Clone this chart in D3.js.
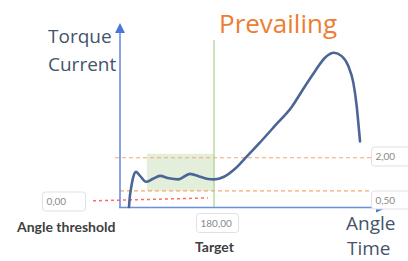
<!DOCTYPE html>
<html lang="en">
<head>
  <meta charset="UTF-8" />
  <title>Prevailing torque</title>
  <script src="https://cdnjs.cloudflare.com/ajax/libs/d3/7.8.2/d3.min.js"></script>
  <style>
    body { margin: 0; padding: 0; background: #fff; }
    svg { display: block; }
  </style>
</head>
<body>
<svg id="chart"></svg>
<script>
// ---- data (angle in deg, torque in Nm) ----
const curveAngle  = [0, 1.5, 4.2, 8.5, 14.8, 23.3, 36.0, 50.8, 65.6, 84.7, 103.8, 129.2, 150.4, 167.3, 180.0, 201.2, 224.5, 245.6, 276.0, 309.2, 344.5, 372.7, 393.9, 415.0, 434.1, 450.4, 464.4, 475.0, 482.2, 485.6, 489.2];
const curveTorque = [-0.23, 0.2, 0.6, 1.09, 1.36, 1.18, 0.91, 1.05, 1.18, 1.07, 1.02, 1.27, 1.14, 1.04, 1.02, 1.14, 1.50, 1.97, 2.66, 3.45, 4.30, 5.24, 5.92, 6.53, 6.75, 6.60, 6.15, 5.40, 4.33, 3.58, 2.74];
const targetAngle = 180;
const torqueLimits = [2.0, 0.5];
const thresholdTorque = [0.05, 0.18];      // red dashed threshold, left/right end
const windowStart = 38;                     // start of the prevailing window
const labels = { threshold: "0,00", target: "180,00", high: "2,00", low: "0,50" };

const width = 408, height = 261;
const svg = d3.select("#chart").attr("width", width).attr("height", height);

const x = d3.scaleLinear().domain([-19.1, 544.2]).range([120, 386]);
const y = d3.scaleLinear().domain([-0.23, 8.1]).range([207, 23]);

// prevailing window
svg.append("rect")
  .attr("x", x(windowStart)).attr("y", y(2.18))
  .attr("width", x(targetAngle) - x(windowStart))
  .attr("height", y(0.5) - y(2.18))
  .attr("fill", "#e4efdb");

// torque limit lines
torqueLimits.forEach((t, i) => {
  svg.append("line")
    .attr("x1", i === 0 ? 115 : x(-19.1)).attr("x2", 372)
    .attr("y1", y(t)).attr("y2", y(t))
    .attr("stroke", "#f5a66e").attr("stroke-width", 1.2)
    .attr("stroke-dasharray", "4,3");
});

// angle threshold
svg.append("line")
  .attr("x1", 93).attr("x2", x(167))
  .attr("y1", y(thresholdTorque[0])).attr("y2", y(thresholdTorque[1]))
  .attr("stroke", "#ff6a6a").attr("stroke-width", 1.5)
  .attr("stroke-dasharray", "3,3");

// target line
svg.append("line")
  .attr("x1", x(targetAngle)).attr("x2", x(targetAngle))
  .attr("y1", 40).attr("y2", y(-0.23))
  .attr("stroke", "#a9d18e").attr("stroke-width", 1.2);

// axes
const axisColor = "#6a8fdc";
svg.append("line").attr("x1", 120).attr("x2", 120).attr("y1", 30).attr("y2", 208)
  .attr("stroke", axisColor).attr("stroke-width", 1.6);
svg.append("line").attr("x1", 119).attr("x2", 378).attr("y1", 207.5).attr("y2", 207.5)
  .attr("stroke", axisColor).attr("stroke-width", 1.6);
svg.append("path").attr("d", "M120,23 L115,33 L125,33 Z").attr("fill", "#4a78d6");
svg.append("path").attr("d", "M387,207.5 L376,202.5 L376,212.5 Z").attr("fill", "#4a78d6");

// torque curve
const line = d3.line()
  .x((d, i) => x(curveAngle[i]))
  .y(d => y(d))
  .curve(d3.curveMonotoneX);
svg.append("path")
  .datum(curveTorque)
  .attr("d", line)
  .attr("fill", "none")
  .attr("stroke", "#4b6597")
  .attr("stroke-width", 2.6)
  .attr("stroke-linecap", "round");

// value boxes
function box(bx, by, w, h, txt) {
  svg.append("rect").attr("x", bx).attr("y", by).attr("width", w).attr("height", h)
    .attr("rx", 3).attr("fill", "#fff").attr("stroke", "#dfe1e5").attr("stroke-width", 1);
  svg.append("text").attr("x", bx + 4).attr("y", by + h / 2 + 3.5)
    .attr("font-family", "Lato, sans-serif").attr("font-size", 10)
    .attr("fill", "#8a8a8a").text(txt);
}
box(42.5, 192, 43, 19, labels.threshold);
box(196.5, 213.5, 42, 19, labels.target);
box(371.5, 147, 45, 19, labels.high);
box(371.5, 191, 45, 18, labels.low);

// small labels
svg.append("text").attr("x", 17).attr("y", 232)
  .attr("font-family", "Lato, sans-serif").attr("font-size", 14).attr("font-weight", 700)
  .attr("fill", "#404040").text("Angle threshold");
svg.append("text").attr("x", 195).attr("y", 252)
  .attr("font-family", "Lato, sans-serif").attr("font-size", 14).attr("font-weight", 700)
  .attr("fill", "#404040").text("Target");

// axis titles
const titleColor = "#44546a";
svg.append("text").attr("x", 48).attr("y", 43)
  .attr("font-family", "'Open Sans', sans-serif").attr("font-size", 19)
  .attr("fill", titleColor).text("Torque");
svg.append("text").attr("x", 48).attr("y", 71)
  .attr("font-family", "'Open Sans', sans-serif").attr("font-size", 19)
  .attr("fill", titleColor).text("Current");
svg.append("text").attr("x", 346).attr("y", 230)
  .attr("font-family", "'Open Sans', sans-serif").attr("font-size", 19)
  .attr("fill", titleColor).text("Angle");
svg.append("text").attr("x", 347).attr("y", 255)
  .attr("font-family", "'Open Sans', sans-serif").attr("font-size", 19)
  .attr("fill", titleColor).text("Time");

svg.append("text").attr("x", 219).attr("y", 33)
  .attr("font-family", "'Open Sans', sans-serif").attr("font-size", 26)
  .attr("fill", "#ed7d31").text("Prevailing");
</script>
</body>
</html>
